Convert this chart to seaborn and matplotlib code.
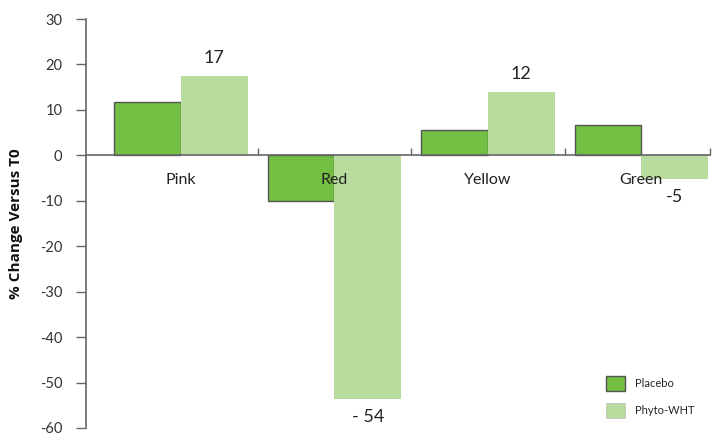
import matplotlib
matplotlib.use("Agg")
import matplotlib.pyplot as plt
import seaborn as sns
import pandas as pd
from matplotlib.patches import Patch
from matplotlib.ticker import FixedLocator

categories = ["Pink", "Red", "Yellow", "Green"]
series_names = ["Placebo", "Phyto-WHT"]
placebo = [11.7, -10.1, 5.6, 6.6]
phyto = [17.5, -53.7, 13.9, -5.3]
phyto_labels = ["17", "- 54", "12", "-5"]
y_ticks = [30, 20, 10, 0, -10, -20, -30, -40, -50, -60]

colors = ["#72BF44", "#B8DC9E"]

df = pd.DataFrame({
    "cat": categories * 2,
    "series": [series_names[0]] * 4 + [series_names[1]] * 4,
    "val": placebo + phyto,
})

sns.set_style("white")
plt.rcParams["font.family"] = ["Lato", "DejaVu Sans"]

fig = plt.figure(figsize=(7.16, 4.37), dpi=100)
ax = fig.add_axes([0.120, 0.0206, 0.872, 0.9359])

sns.barplot(data=df, x="cat", y="val", hue="series", palette=colors,
            width=0.87, saturation=1, ax=ax, legend=False, errorbar=None)

for p in ax.containers[0]:
    p.set_edgecolor("#555555")
    p.set_linewidth(1.0)
for p in ax.containers[1]:
    p.set_edgecolor("none")
    p.set_linewidth(0)

ax.bar_label(ax.containers[1], labels=phyto_labels, padding=7,
             fontsize=13, color="#222222")

ax.set_axisbelow(False)
ax.set_ylim(-60, 30)
ax.set_xlim(-0.62, 3.45)
ax.set_yticks(y_ticks)
ax.set_yticklabels([str(t) for t in y_ticks])

# spines
for s in ["top", "right"]:
    ax.spines[s].set_visible(False)
ax.spines["left"].set_color("#666666")
ax.spines["bottom"].set_color("#666666")
ax.spines["bottom"].set_position(("data", 0))
ax.spines["bottom"].set_linewidth(1.2)
ax.spines["left"].set_linewidth(1.2)

ax.tick_params(axis="y", direction="out", length=7, width=1, color="#666666",
               pad=10, labelsize=10.5, labelcolor="#333333", left=True)
ax.tick_params(axis="x", which="major", length=0, pad=13, labelsize=11.5,
               labelcolor="#222222")
ax.xaxis.set_minor_locator(FixedLocator([0.5, 1.5, 2.5, 3.45]))
ax.tick_params(axis="x", which="minor", direction="in", length=5, width=1,
               color="#666666", bottom=True)

ax.set_xlabel("")
ax.set_ylabel("% Change Versus T0", fontsize=11, fontweight="bold",
              family=["Open Sans", "DejaVu Sans"], labelpad=12, color="#111111")

handles = [Patch(facecolor=colors[0], edgecolor="#555555", linewidth=1),
           Patch(facecolor=colors[1], edgecolor="#bbbbbb", linewidth=0.5)]
ax.legend(handles, series_names, loc="lower right", bbox_to_anchor=(0.99, 0.0),
          frameon=False, fontsize=8, handlelength=1.7, handleheight=1.7,
          labelspacing=1.05, handletextpad=0.9)

fig.savefig("out.png", dpi=100)
